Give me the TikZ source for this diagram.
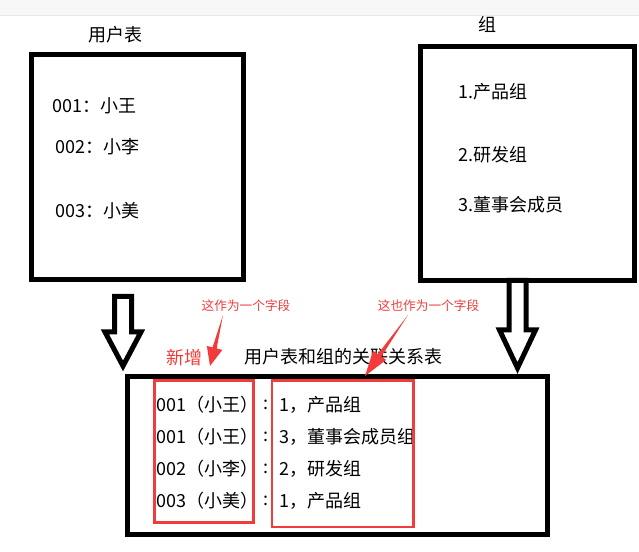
\documentclass[tikz,border=0pt]{standalone}
\usepackage{fontspec}
\setmainfont{Noto Sans CJK SC}
\usetikzlibrary{calc}
\definecolor{notered}{RGB}{242,60,60}
\definecolor{band}{RGB}{247,247,247}
\definecolor{bandline}{RGB}{232,232,232}
\tikzset{
	tbl/.style={draw,line width=3.75pt,inner sep=0,outer sep=0},
	field/.style={draw=notered,line width=2pt,inner sep=0,outer sep=0},
	txt/.style={inner sep=0,anchor=west,font=\fontsize{13.5}{16}\selectfont},
	title/.style={inner sep=0,font=\fontsize{13.5}{16}\selectfont},
	note/.style={inner sep=0,text=notered,font=\fontsize{9.5}{11}\selectfont}
}
\newcommand{\Hollow}[4]{
	\begin{scope}[xshift=#1*0.75pt]
		\draw[line width=3.75pt,line join=miter](-8.5,#2)--(8.5,#2)--(8.5,#3)--(18,#3)--(0,#4)--(-18,#3)--(-8.5,#3)--cycle;
	\end{scope}
}
\newcommand{\Pointer}[3]{
	\coordinate (base) at ($(#2)!#3!(#1)$);
	\fill[notered](#1)--($(base)!1.6pt!90:(#2)$)--($(base)!6pt!90:(#2)$)--(#2)--($(base)!6pt!-90:(#2)$)--($(base)!1.6pt!-90:(#2)$)--cycle;
}

\begin{document}
\begin{tikzpicture}[x=0.75pt,y=-0.75pt]
\useasboundingbox (0,0) rectangle (639,552);
%band
\fill[band](0,0) rectangle (639,15);
\draw[bandline](0,15)--(639,15);
%user table
\node (users) [tbl,minimum width=159pt,minimum height=168.75pt] at (137.5,167) {};
\node (usersT) [title] at (115,35) {用户表};
\node (u1) [txt] at (52,105.5) {001：小王};
\node (u2) [txt] at (55,146.5) {002：小李};
\node (u3) [txt] at (55,210.5) {003：小美};
%group table
\node (groups) [tbl,minimum width=160.5pt,minimum height=175.5pt] at (527.5,163.5) {};
\node (groupsT) [title] at (487,24.5) {组};
\node (g1) [txt] at (458,91.5) {1.产品组};
\node (g2) [txt] at (458,155) {2.研发组};
\node (g3) [txt] at (458,205) {3.董事会成员};
%arrows
\Hollow{123}{296.5}{332}{366}
\Hollow{517.5}{280.5}{330}{368}
%link table
\node (link) [tbl,minimum width=315pt,minimum height=118.5pt] at (337.5,455.5) {};
\node (linkT) [title] at (343,357) {用户表和组的关联关系表};
\node (added) [title,text=notered] at (184,357.5) {新增};
\foreach \who/\grp [count=\i] in {001（小王）/1，产品组,001（小王）/3，董事会成员组,002（小李）/2，研发组,003（小美）/1，产品组}{
	\node (row\i) [txt] at (156,405+32*\i-32) {\who};
	\node (colon\i) [txt] at (263,405+32*\i-32) {:};
	\node (grp\i) [txt] at (279,405+32*\i-32) {\grp};
}
%fields
\node (idField) [field,minimum width=74.25pt,minimum height=106.5pt] at (204,451.5) {};
\node (grpField) [field,minimum width=106.125pt,minimum height=109.875pt] at (342.75,453.75) {};
%notes
\node (note1) [note] at (246,306) {这作为一个字段};
\node (note2) [note] at (428.5,306) {这也作为一个字段};
\coordinate (tail1) at (223,315);
\coordinate (tip1) at (210,366);
\coordinate (tail2) at (408,315);
\coordinate (tip2) at (365,376);
\Pointer{tail1}{tip1}{14pt}
\Pointer{tail2}{tip2}{19pt}
\end{tikzpicture}
\end{document}
